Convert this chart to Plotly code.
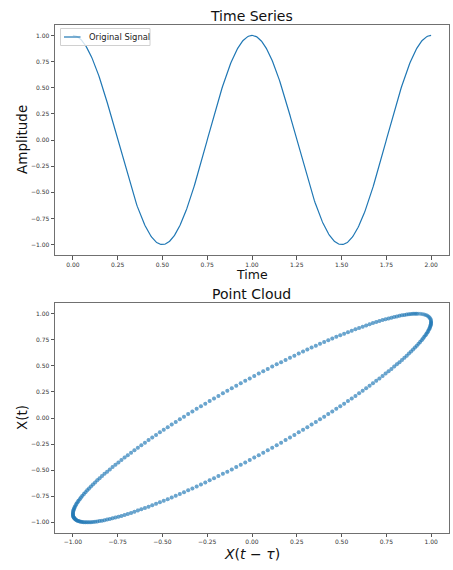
import numpy as np
import plotly.graph_objects as go

# Sampled signal amplitude, one sample every SAMPLE_STEP seconds (t = 0 .. 2 s)
SAMPLE_STEP = 0.004
DELAY_SAMPLES = 16  # embedding delay tau, in samples

amplitude = [
    # first period
    1.0000, 0.9997, 0.9987, 0.9972, 0.9950, 0.9921, 0.9886, 0.9846, 0.9798, 0.9745,
    0.9686, 0.9620, 0.9549, 0.9471, 0.9387, 0.9298, 0.9202, 0.9101, 0.8994, 0.8881,
    0.8763, 0.8639, 0.8510, 0.8375, 0.8235, 0.8090, 0.7940, 0.7785, 0.7624, 0.7459,
    0.7290, 0.7115, 0.6937, 0.6753, 0.6566, 0.6374, 0.6179, 0.5979, 0.5776, 0.5569,
    0.5358, 0.5144, 0.4927, 0.4707, 0.4484, 0.4258, 0.4029, 0.3798, 0.3564, 0.3328,
    0.3090, 0.2850, 0.2608, 0.2365, 0.2120, 0.1874, 0.1626, 0.1378, 0.1129, 0.0879,
    0.0628, 0.0377, 0.0126,
    -0.0126, -0.0377, -0.0628, -0.0879, -0.1129, -0.1378, -0.1626, -0.1874, -0.2120, -0.2365,
    -0.2608, -0.2850, -0.3090, -0.3328, -0.3564, -0.3798, -0.4029, -0.4258, -0.4484, -0.4707,
    -0.4927, -0.5144, -0.5358, -0.5569, -0.5776, -0.5979, -0.6179, -0.6374, -0.6566, -0.6753,
    -0.6937, -0.7115, -0.7290, -0.7459, -0.7624, -0.7785, -0.7940, -0.8090, -0.8235, -0.8375,
    -0.8510, -0.8639, -0.8763, -0.8881, -0.8994, -0.9101, -0.9202, -0.9298, -0.9387, -0.9471,
    -0.9549, -0.9620, -0.9686, -0.9745, -0.9798, -0.9846, -0.9886, -0.9921, -0.9950, -0.9972,
    -0.9987, -0.9997, -1.0000,
    -0.9997, -0.9987, -0.9972, -0.9950, -0.9921, -0.9886, -0.9846, -0.9798, -0.9745, -0.9686,
    -0.9620, -0.9549, -0.9471, -0.9387, -0.9298, -0.9202, -0.9101, -0.8994, -0.8881, -0.8763,
    -0.8639, -0.8510, -0.8375, -0.8235, -0.8090, -0.7940, -0.7785, -0.7624, -0.7459, -0.7290,
    -0.7115, -0.6937, -0.6753, -0.6566, -0.6374, -0.6179, -0.5979, -0.5776, -0.5569, -0.5358,
    -0.5144, -0.4927, -0.4707, -0.4484, -0.4258, -0.4029, -0.3798, -0.3564, -0.3328, -0.3090,
    -0.2850, -0.2608, -0.2365, -0.2120, -0.1874, -0.1626, -0.1378, -0.1129, -0.0879, -0.0628,
    -0.0377, -0.0126,
    0.0126, 0.0377, 0.0628, 0.0879, 0.1129, 0.1378, 0.1626, 0.1874, 0.2120, 0.2365,
    0.2608, 0.2850, 0.3090, 0.3328, 0.3564, 0.3798, 0.4029, 0.4258, 0.4484, 0.4707,
    0.4927, 0.5144, 0.5358, 0.5569, 0.5776, 0.5979, 0.6179, 0.6374, 0.6566, 0.6753,
    0.6937, 0.7115, 0.7290, 0.7459, 0.7624, 0.7785, 0.7940, 0.8090, 0.8235, 0.8375,
    0.8510, 0.8639, 0.8763, 0.8881, 0.8994, 0.9101, 0.9202, 0.9298, 0.9387, 0.9471,
    0.9549, 0.9620, 0.9686, 0.9745, 0.9798, 0.9846, 0.9886, 0.9921, 0.9950, 0.9972,
    0.9987, 0.9997, 1.0000,
    # second period
    0.9997, 0.9987, 0.9972, 0.9950, 0.9921, 0.9886, 0.9846, 0.9798, 0.9745,
    0.9686, 0.9620, 0.9549, 0.9471, 0.9387, 0.9298, 0.9202, 0.9101, 0.8994, 0.8881,
    0.8763, 0.8639, 0.8510, 0.8375, 0.8235, 0.8090, 0.7940, 0.7785, 0.7624, 0.7459,
    0.7290, 0.7115, 0.6937, 0.6753, 0.6566, 0.6374, 0.6179, 0.5979, 0.5776, 0.5569,
    0.5358, 0.5144, 0.4927, 0.4707, 0.4484, 0.4258, 0.4029, 0.3798, 0.3564, 0.3328,
    0.3090, 0.2850, 0.2608, 0.2365, 0.2120, 0.1874, 0.1626, 0.1378, 0.1129, 0.0879,
    0.0628, 0.0377, 0.0126,
    -0.0126, -0.0377, -0.0628, -0.0879, -0.1129, -0.1378, -0.1626, -0.1874, -0.2120, -0.2365,
    -0.2608, -0.2850, -0.3090, -0.3328, -0.3564, -0.3798, -0.4029, -0.4258, -0.4484, -0.4707,
    -0.4927, -0.5144, -0.5358, -0.5569, -0.5776, -0.5979, -0.6179, -0.6374, -0.6566, -0.6753,
    -0.6937, -0.7115, -0.7290, -0.7459, -0.7624, -0.7785, -0.7940, -0.8090, -0.8235, -0.8375,
    -0.8510, -0.8639, -0.8763, -0.8881, -0.8994, -0.9101, -0.9202, -0.9298, -0.9387, -0.9471,
    -0.9549, -0.9620, -0.9686, -0.9745, -0.9798, -0.9846, -0.9886, -0.9921, -0.9950, -0.9972,
    -0.9987, -0.9997, -1.0000,
    -0.9997, -0.9987, -0.9972, -0.9950, -0.9921, -0.9886, -0.9846, -0.9798, -0.9745, -0.9686,
    -0.9620, -0.9549, -0.9471, -0.9387, -0.9298, -0.9202, -0.9101, -0.8994, -0.8881, -0.8763,
    -0.8639, -0.8510, -0.8375, -0.8235, -0.8090, -0.7940, -0.7785, -0.7624, -0.7459, -0.7290,
    -0.7115, -0.6937, -0.6753, -0.6566, -0.6374, -0.6179, -0.5979, -0.5776, -0.5569, -0.5358,
    -0.5144, -0.4927, -0.4707, -0.4484, -0.4258, -0.4029, -0.3798, -0.3564, -0.3328, -0.3090,
    -0.2850, -0.2608, -0.2365, -0.2120, -0.1874, -0.1626, -0.1378, -0.1129, -0.0879, -0.0628,
    -0.0377, -0.0126,
    0.0126, 0.0377, 0.0628, 0.0879, 0.1129, 0.1378, 0.1626, 0.1874, 0.2120, 0.2365,
    0.2608, 0.2850, 0.3090, 0.3328, 0.3564, 0.3798, 0.4029, 0.4258, 0.4484, 0.4707,
    0.4927, 0.5144, 0.5358, 0.5569, 0.5776, 0.5979, 0.6179, 0.6374, 0.6566, 0.6753,
    0.6937, 0.7115, 0.7290, 0.7459, 0.7624, 0.7785, 0.7940, 0.8090, 0.8235, 0.8375,
    0.8510, 0.8639, 0.8763, 0.8881, 0.8994, 0.9101, 0.9202, 0.9298, 0.9387, 0.9471,
    0.9549, 0.9620, 0.9686, 0.9745, 0.9798, 0.9846, 0.9886, 0.9921, 0.9950, 0.9972,
    0.9987, 0.9997, 1.0000,
]

tick_values = [-1.0, -0.75, -0.5, -0.25, 0.0, 0.25, 0.5, 0.75, 1.0]
time_ticks = [0.0, 0.25, 0.5, 0.75, 1.0, 1.25, 1.5, 1.75, 2.0]

signal = np.array(amplitude)
time = np.arange(len(signal)) * SAMPLE_STEP

# delay embedding: X(t - tau) on x, X(t) on y
lagged = signal[:-DELAY_SAMPLES]
current = signal[DELAY_SAMPLES:]

W, H = 453, 570
BLUE = "#1f77b4"
FONT = "DejaVu Sans"


def px_x(p):
    return p / W


def px_y(p):
    return 1 - p / H


fig = go.Figure()

fig.add_trace(go.Scatter(
    x=time, y=signal, mode="lines", name="Original Signal",
    line=dict(color=BLUE, width=1.2), xaxis="x", yaxis="y", showlegend=False,
))

fig.add_trace(go.Scatter(
    x=lagged, y=current, mode="markers",
    marker=dict(color=BLUE, size=4.0, opacity=0.42, line=dict(width=0)),
    xaxis="x2", yaxis="y2", showlegend=False,
))

axis_common = dict(
    showgrid=False, zeroline=False, showline=True, mirror=True,
    linecolor="#707070", linewidth=1,
    ticks="outside", ticklen=3.5, tickwidth=1, tickcolor="#555",
    tickfont=dict(family=FONT, size=6, color="#333"),
    tickformat=".2f",
)

dom_x = [px_x(55), px_x(449)]
fig.update_layout(
    width=W, height=H,
    margin=dict(l=0, r=0, t=0, b=0),
    paper_bgcolor="white", plot_bgcolor="white",
    xaxis=dict(domain=dom_x, range=[-0.1, 2.1], tickvals=time_ticks, anchor="y", **axis_common),
    yaxis=dict(domain=[px_y(255), px_y(25)], range=[-1.1, 1.1], tickvals=tick_values, anchor="x", **axis_common),
    xaxis2=dict(domain=dom_x, range=[-1.1, 1.1], tickvals=tick_values, anchor="y2", **axis_common),
    yaxis2=dict(domain=[px_y(532.7), px_y(303.3)], range=[-1.1, 1.1], tickvals=tick_values, anchor="x2", **axis_common),
)

# legend box for the time series panel
fig.add_shape(type="rect", xref="x domain", yref="y domain",
              x0=(60.5 - 55) / 394, x1=(150 - 55) / 394,
              y0=1 - 20.5 / 230, y1=1 - 3.5 / 230,
              line=dict(color="#d0d0d0", width=1), fillcolor="rgba(255,255,255,0.8)")
fig.add_shape(type="line", xref="x domain", yref="y domain",
              x0=(64 - 55) / 394, x1=(80.5 - 55) / 394,
              y0=1 - 12 / 230, y1=1 - 12 / 230,
              line=dict(color=BLUE, width=1.2))

annotations = [
    dict(text="Original Signal", x=(86.5 - 55) / 394, y=1 - 12 / 230, xref="x domain", yref="y domain",
         xanchor="left", yanchor="middle", font=dict(family=FONT, size=8.4, color="#222")),
    dict(text="Time Series", x=px_x(252), y=px_y(16.5), font=dict(family=FONT, size=14, color="#111")),
    dict(text="Time", x=px_x(252), y=px_y(274.5), font=dict(family=FONT, size=12.5, color="#111")),
    dict(text="Amplitude", x=px_x(22), y=px_y(140), textangle=-90, font=dict(family=FONT, size=13.5, color="#111")),
    dict(text="Point Cloud", x=px_x(252), y=px_y(294), font=dict(family=FONT, size=14, color="#111")),
    dict(text="X(t)", x=px_x(22), y=px_y(418), textangle=-90, font=dict(family=FONT, size=13.5, color="#111")),
    dict(text="<i>X</i>(<i>t</i> \u2212 <i>\u03c4</i>)", x=px_x(252), y=px_y(553.5),
         font=dict(family=FONT, size=14, color="#111")),
]
for a in annotations:
    a.setdefault("xref", "paper")
    a.setdefault("yref", "paper")
    a.setdefault("xanchor", "center")
    a.setdefault("yanchor", "middle")
    a["showarrow"] = False
    fig.add_annotation(**a)

fig.write_html("out.html")
